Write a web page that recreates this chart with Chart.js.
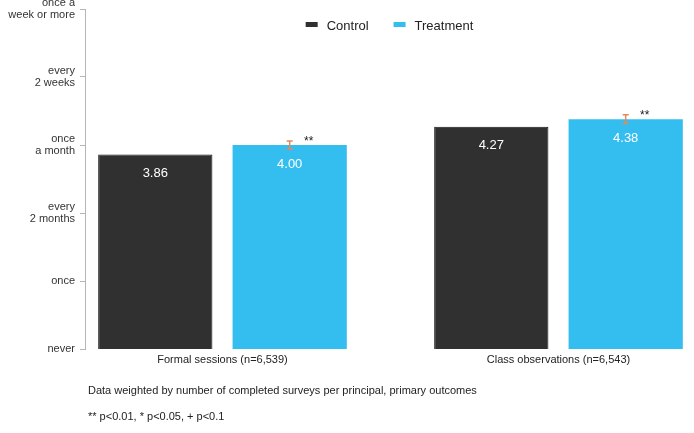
<!DOCTYPE html>
<html>
<head>
<meta charset="utf-8">
<script src="https://cdn.jsdelivr.net/npm/chart.js@4.4.1/dist/chart.umd.min.js"></script>
<style>
    html, body { margin: 0; padding: 0; background: #fff; }
</style>
</head>
<body>
<canvas id="chart" width="694" height="433"></canvas>
<script>
const categories = ['Formal sessions (n=6,539)', 'Class observations (n=6,543)'];
const seriesNames = ['Control', 'Treatment'];
const controlValues = [3.86, 4.27];
const treatmentValues = [4.00, 4.38];
const treatmentErr = [0.06, 0.065];
const significance = ['**', '**'];
const frequencyTicks = [1, 2, 3, 4, 5, 6];
const frequencyLabels = [['never'], ['once'], ['every', '2 months'], ['once', 'a month'], ['every', '2 weeks'], ['once a', 'week or more']];
const footnotes = [
    'Data weighted by number of completed surveys per principal, primary outcomes',
    '** p<0.01, * p<0.05, + p<0.1'
];

const FONT = "'Liberation Sans', Arial, sans-serif";
const colors = {control: '#303030', treatment: '#34bef0', err: '#e8875a', axis: '#b5b5b5', text: '#222'};

// bars sit on a linear x scale so the groups can keep the wide side margins
function toPoints(values) {
    return values.map((v, i) => ({x: i + 1, y: v}));
}

const overlay = {
    id: 'overlay',
    afterDatasetsDraw(chart) {
        const ctx = chart.ctx;
        const y = chart.scales.y;
        const ctrl = chart.getDatasetMeta(0).data;
        const treat = chart.getDatasetMeta(1).data;

        ctx.save();
        ctx.font = '13px ' + FONT;
        ctx.fillStyle = '#fff';
        ctx.textAlign = 'center';
        ctx.textBaseline = 'middle';
        ctrl.forEach((bar, i) => ctx.fillText(controlValues[i].toFixed(2), bar.x, bar.y + 19));
        treat.forEach((bar, i) => ctx.fillText(treatmentValues[i].toFixed(2), bar.x, bar.y + 19));

        // error bars + stars
        ctx.strokeStyle = colors.err;
        ctx.lineWidth = 1.5;
        treat.forEach((bar, i) => {
            let top = y.getPixelForValue(treatmentValues[i] + treatmentErr[i]);
            let bot = y.getPixelForValue(treatmentValues[i] - treatmentErr[i]);
            ctx.beginPath();
            ctx.moveTo(bar.x, top);
            ctx.lineTo(bar.x, bot);
            ctx.moveTo(bar.x - 3, top);
            ctx.lineTo(bar.x + 3, top);
            ctx.moveTo(bar.x - 3, bot);
            ctx.lineTo(bar.x + 3, bot);
            ctx.stroke();
            ctx.fillStyle = colors.text;
            ctx.font = '12px ' + FONT;
            ctx.fillText(significance[i], bar.x + 19, top + 1);
        });

        // legend, centred in the plot area
        ctx.font = '13px ' + FONT;
        ctx.textAlign = 'left';
        let items = chart.data.datasets.map(ds => ({label: ds.label, color: ds.backgroundColor, w: 21 + ctx.measureText(ds.label).width}));
        let total = items.reduce((s, it) => s + it.w, 0) + 25 * (items.length - 1);
        let x = (chart.chartArea.left + chart.chartArea.right) / 2 - total / 2;
        items.forEach(it => {
            ctx.fillStyle = it.color;
            ctx.fillRect(x, 22, 12, 5);
            ctx.fillStyle = colors.text;
            ctx.fillText(it.label, x + 21, 26.5);
            x += it.w + 25;
        });

        // footnotes
        ctx.font = '11px ' + FONT;
        ctx.fillStyle = colors.text;
        footnotes.forEach((t, i) => ctx.fillText(t, chart.chartArea.left + 3, 391 + i * 26));
        ctx.restore();
    }
};

new Chart(document.getElementById('chart'), {
    type: 'bar',
    data: {
        datasets: [{
            label: seriesNames[0],
            data: toPoints(controlValues),
            backgroundColor: colors.control,
            borderColor: '#151515',
            borderWidth: 1
        }, {
            label: seriesNames[1],
            data: toPoints(treatmentValues),
            backgroundColor: colors.treatment,
            borderWidth: 0
        }]
    },
    options: {
        responsive: false,
        animation: false,
        devicePixelRatio: 1,
        categoryPercentage: 0.8,
        barPercentage: 0.85,
        layout: {padding: {top: 9, right: 0, left: 0, bottom: 0}},
        plugins: {
            legend: {display: false},
            tooltip: {enabled: false}
        },
        scales: {
            x: {
                type: 'linear',
                offset: false,
                min: 0.5908,
                max: 2.4033,
                afterBuildTicks: (scale) => {
                    scale.ticks = categories.map((c, i) => ({value: i + 1}));
                },
                afterFit: (scale) => {
                    scale.height = 84;
                    scale.paddingLeft = 0;
                    scale.paddingRight = 0;
                },
                grid: {display: false, drawTicks: false},
                border: {display: false},
                ticks: {
                    padding: 4,
                    maxRotation: 0,
                    autoSkip: false,
                    color: colors.text,
                    font: {family: FONT, size: 11},
                    callback: (v) => categories[v - 1]
                }
            },
            y: {
                min: 1,
                max: 6,
                afterBuildTicks: (scale) => {
                    scale.ticks = frequencyTicks.map(v => ({value: v}));
                },
                afterFit: (scale) => {
                    scale.width = 85;
                    scale.paddingTop = 0;
                    scale.paddingBottom = 0;
                },
                grid: {drawOnChartArea: false, drawTicks: true, tickLength: 5, color: colors.axis},
                border: {display: true, color: colors.axis, width: 1},
                ticks: {
                    padding: 5,
                    color: '#333',
                    font: {family: FONT, size: 11, lineHeight: 1.08},
                    callback: (v) => frequencyLabels[frequencyTicks.indexOf(v)]
                }
            }
        }
    },
    plugins: [overlay]
});
</script>
</body>
</html>
